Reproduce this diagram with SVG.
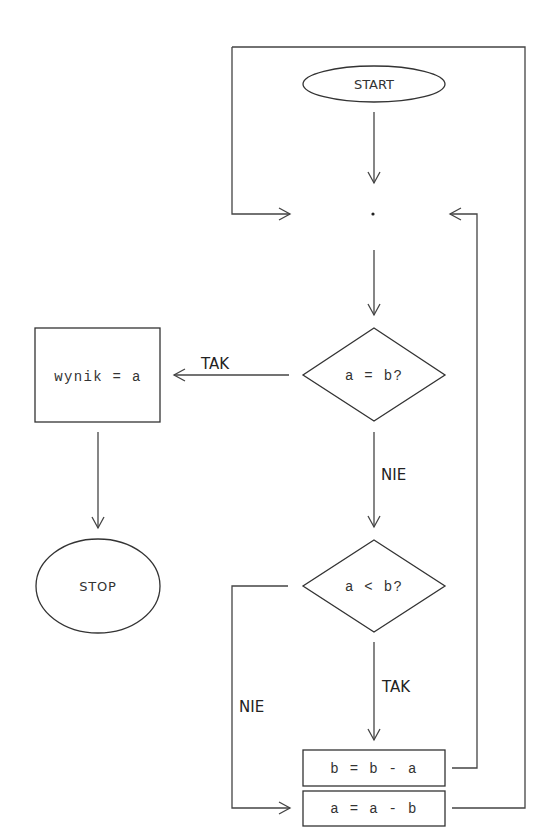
<svg xmlns="http://www.w3.org/2000/svg" width="549" height="839" viewBox="0 0 549 839">
<defs>
<marker id="ah" markerWidth="14" markerHeight="14" refX="12" refY="7" orient="auto" markerUnits="userSpaceOnUse">
<path d="M1,1 L12,7 L1,13" fill="none" stroke="#444" stroke-width="1.3"/>
</marker>
<style>
.n{fill:#fff;stroke:#333;stroke-width:1.3}
.c{stroke-width:1.3;stroke:#444;fill:none}
.m{font-family:"Liberation Mono","DejaVu Sans Mono",monospace;font-size:14px;letter-spacing:1.3px;fill:#333;text-anchor:middle}
.t{font-family:"DejaVu Sans","Liberation Sans",sans-serif;font-size:13px;fill:#333;text-anchor:middle}
.l{font-family:"DejaVu Sans","Liberation Sans",sans-serif;font-size:15px;fill:#222}
</style>
</defs>
<rect width="549" height="839" fill="#fff"/>
<g id="connectors">
<polyline class="c" points="232,47 525,47 525,808 452,808"/>
<polyline class="c" points="232,47 232,214 290,214" marker-end="url(#ah)"/>
<line class="c" x1="374" y1="112" x2="374" y2="183" marker-end="url(#ah)"/>
<line class="c" x1="374" y1="250" x2="374" y2="315" marker-end="url(#ah)"/>
<polyline class="c" points="452,768 477,768 477,214 450,214" marker-end="url(#ah)"/>
<line class="c" x1="289" y1="375" x2="174" y2="375" marker-end="url(#ah)"/>
<line class="c" x1="98" y1="432" x2="98" y2="528" marker-end="url(#ah)"/>
<line class="c" x1="374" y1="432" x2="374" y2="527" marker-end="url(#ah)"/>
<polyline class="c" points="288,586 232,586 232,808 290,808" marker-end="url(#ah)"/>
<line class="c" x1="374" y1="642" x2="374" y2="740" marker-end="url(#ah)"/>
<text class="l" x="201" y="369">TAK</text>
<text class="l" x="381" y="480">NIE</text>
<text class="l" x="382" y="692">TAK</text>
<text class="l" x="239" y="712">NIE</text>
</g>
<g id="start">
<ellipse class="n" cx="374" cy="84" rx="71" ry="18"/>
<text class="t" x="374" y="89">START</text>
</g>
<g id="junction">
<circle cx="373" cy="214" r="1.6" fill="#222"/>
</g>
<g id="cond1">
<polygon class="n" points="374,328 445,375 374,421 303,375"/>
<text class="m" x="374" y="380">a = b?</text>
</g>
<g id="wynik">
<rect class="n" x="35" y="328" width="125" height="94"/>
<text class="m" x="98" y="381">wynik = a</text>
</g>
<g id="stop">
<ellipse class="n" cx="98" cy="586" rx="62" ry="47"/>
<text class="t" x="98" y="591" letter-spacing="0.8">STOP</text>
</g>
<g id="cond2">
<polygon class="n" points="374,540 445,586 374,632 303,586"/>
<text class="m" x="374" y="591">a &lt; b?</text>
</g>
<g id="bminus">
<rect class="n" x="303" y="750" width="142" height="36"/>
<text class="m" x="374" y="773">b = b - a</text>
</g>
<g id="aminus">
<rect class="n" x="303" y="791" width="142" height="35"/>
<text class="m" x="374" y="813">a = a - b</text>
</g>
</svg>
